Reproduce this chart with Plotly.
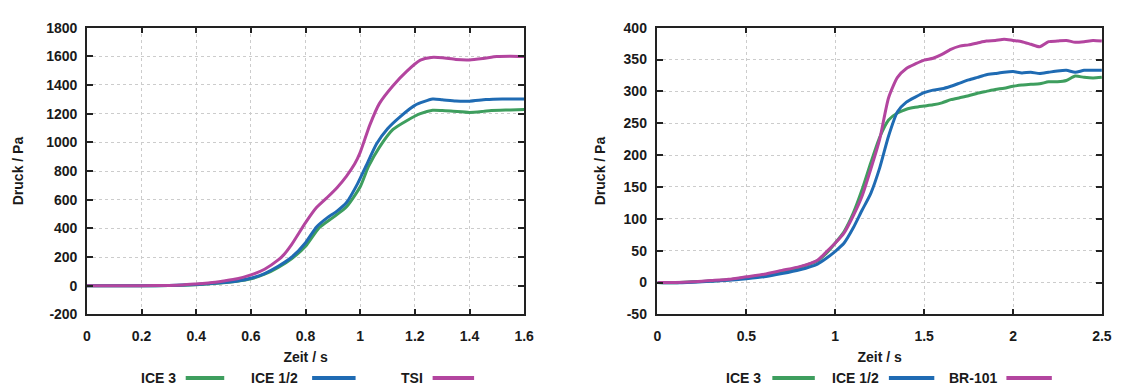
import plotly.graph_objects as go

# ---------------- Left chart data (Zeit / s, Druck / Pa) ----------------
t_left_ice3 = [0, 0.1, 0.2, 0.3, 0.4, 0.5, 0.55, 0.6, 0.65, 0.7, 0.75, 0.8, 0.85, 0.9, 0.95, 1.0,
               1.03, 1.07, 1.12, 1.17, 1.22, 1.265, 1.3, 1.34, 1.4, 1.45, 1.48, 1.55, 1.6]
v_left_ice3 = [0, 0, 0, 1, 7, 20, 31, 48, 80, 128, 190, 275, 405, 475, 550, 690,
               830, 965, 1090, 1151, 1200, 1224, 1222, 1217, 1209, 1216, 1222, 1226, 1229]

t_left_ice12 = [0, 0.1, 0.2, 0.3, 0.4, 0.5, 0.55, 0.6, 0.65, 0.7, 0.75, 0.8, 0.84, 0.88, 0.915, 0.95,
                0.99, 1.02, 1.06, 1.1, 1.15, 1.2, 1.265, 1.3, 1.35, 1.4, 1.46, 1.52, 1.6]
v_left_ice12 = [0, 0, 0, 1, 8, 22, 33, 52, 85, 135, 200, 300, 410, 475, 520, 580,
                710, 830, 990, 1095, 1185, 1258, 1302, 1297, 1288, 1287, 1298, 1302, 1302]

t_left_tsi = [0, 0.1, 0.2, 0.3, 0.35, 0.4, 0.45, 0.5, 0.55, 0.6, 0.65, 0.7, 0.72, 0.75, 0.8, 0.84,
              0.88, 0.915, 0.95, 0.98, 1.0, 1.035, 1.07, 1.12, 1.17, 1.22, 1.26, 1.3, 1.35, 1.4,
              1.45, 1.5, 1.55, 1.6]
v_left_tsi = [0, 0, 0, 2, 5, 12, 20, 33, 48, 75, 115, 180, 215, 290, 440, 545,
              617, 684, 765, 850, 930, 1120, 1270, 1395, 1495, 1573, 1592, 1590, 1578, 1575,
              1585, 1598, 1600, 1598]

# ---------------- Right chart data ----------------
t_right = [0, 0.1, 0.2, 0.3, 0.4, 0.5, 0.6, 0.7, 0.8, 0.9, 0.95, 1.0, 1.05, 1.1, 1.15, 1.2, 1.25,
           1.3, 1.35, 1.4, 1.45, 1.5, 1.55, 1.6, 1.65, 1.7, 1.75, 1.8, 1.85, 1.9, 1.95, 2.0,
           2.05, 2.1, 2.15, 2.2, 2.25, 2.3, 2.35, 2.4, 2.45, 2.5]
v_right_ice3 = [0, -0.5, 1, 2.5, 4.5, 8, 12, 17, 24, 34, 46, 62, 80, 108, 145, 188, 228,
                255, 266, 272, 275, 277, 279, 282, 287, 290, 293, 297, 300, 303, 305, 308,
                310, 311, 312, 315, 315, 317, 324, 322, 321, 322]
v_right_ice12 = [0, -0.5, 0.5, 2, 3.5, 6, 9, 14, 20, 29, 38, 49, 62, 85, 113, 140, 180,
                 230, 268, 283, 291, 298, 302, 304, 308, 313, 318, 322, 326, 328, 330, 331,
                 329, 330, 328, 330, 332, 333, 330, 333, 333, 333]
v_right_br101 = [0, 0, 1, 3, 5, 9, 13, 19, 25, 35, 48, 62, 78, 104, 135, 178, 225,
                 290, 322, 336, 343, 349, 352, 358, 366, 371, 373, 376, 379, 380, 382, 380,
                 378, 374, 370, 378, 379, 380, 377, 378, 380, 379]

left_names = ["ICE 3", "ICE 1/2", "TSI"]
right_names = ["ICE 3", "ICE 1/2", "BR-101"]
colors = ["#3E9E5E", "#1F6BB3", "#B3459F"]

left_xticks = [0, 0.2, 0.4, 0.6, 0.8, 1, 1.2, 1.4, 1.6]
left_xtext = ["0", "0.2", "0.4", "0.6", "0.8", "1", "1.2", "1.4", "1.6"]
left_yticks = [-200, 0, 200, 400, 600, 800, 1000, 1200, 1400, 1600, 1800]
left_ytext = ["-200", "0", "200", "400", "600", "800", "1000", "1200", "1400", "1600", "1800"]
right_xticks = [0, 0.5, 1, 1.5, 2, 2.5]
right_xtext = ["0", "0.5", "1", "1.5", "2", "2.5"]
right_yticks = [-50, 0, 50, 100, 150, 200, 250, 300, 350, 400]
right_ytext = ["-50", "0", "50", "100", "150", "200", "250", "300", "350", "400"]

x_title = "Zeit / s"
y_title = "Druck / Pa"

FONT = "Liberation Sans"
W, H = 1128, 389
FS = 14

fig = go.Figure()
left_series = [(t_left_ice3, v_left_ice3), (t_left_ice12, v_left_ice12), (t_left_tsi, v_left_tsi)]
right_series = [v_right_ice3, v_right_ice12, v_right_br101]
for (tx, vy), name, c in zip(left_series, left_names, colors):
    fig.add_trace(go.Scatter(x=tx, y=vy, mode="lines", name=name,
                             line=dict(color=c, width=3, shape="spline", smoothing=0.6),
                             xaxis="x", yaxis="y", showlegend=False))
for vy, name, c in zip(right_series, right_names, colors):
    fig.add_trace(go.Scatter(x=t_right, y=vy, mode="lines", name=name,
                             line=dict(color=c, width=3, shape="spline", smoothing=0.6),
                             xaxis="x2", yaxis="y2", showlegend=False))

ydom = [(H - 319.5) / H, (H - 20.5) / H]
axis_common = dict(showline=True, linecolor="#222", linewidth=1.5, mirror="ticks", ticks="inside",
                   ticklen=6, tickcolor="#222", tickwidth=1.5, showgrid=True, gridcolor="#cccccc",
                   griddash="dot", gridwidth=1, zeroline=False,
                   tickfont=dict(family=FONT, size=FS, color="#1a1a1a", weight="bold"))
title_font = dict(family=FONT, size=FS, color="#1a1a1a", weight="bold")

fig.update_layout(
    width=W, height=H, margin=dict(l=0, r=0, t=0, b=0),
    paper_bgcolor="white", plot_bgcolor="white",
    xaxis=dict(domain=[84 / W, 526.7 / W], range=[0, 1.6], tickvals=left_xticks, ticktext=left_xtext,
               ticklabelstandoff=8,
               title=dict(text=x_title, font=title_font, standoff=9), anchor="y", **axis_common),
    yaxis=dict(domain=ydom, range=[-200, 1800], tickvals=left_yticks, ticktext=left_ytext,
               ticklabelstandoff=5,
               title=dict(text=y_title, font=title_font, standoff=19), anchor="x", **axis_common),
    xaxis2=dict(domain=[661.7 / W, 1111.7 / W], range=[0, 2.5], tickvals=right_xticks, ticktext=right_xtext,
                ticklabelstandoff=8,
                title=dict(text=x_title, font=title_font, standoff=9), anchor="y2", **axis_common),
    yaxis2=dict(domain=ydom, range=[-50, 400], tickvals=right_yticks, ticktext=right_ytext,
                ticklabelstandoff=6,
                title=dict(text=y_title, font=title_font, standoff=15), anchor="x2", **axis_common),
)

# manual legends: label then line sample
leg_y = 386
left_leg = [(176, 184, 223), (300, 312, 356), (426, 434, 476)]
right_leg = [(769, 778, 821), (888, 896, 942), (1007, 1015, 1061)]
for items, names in ((left_leg, left_names), (right_leg, right_names)):
    for (tx, x0, x1), name, c in zip(items, names, colors):
        fig.add_annotation(x=tx / W, y=(H - leg_y) / H, xref="paper", yref="paper", text=name,
                           showarrow=False, xanchor="right", yanchor="middle",
                           font=dict(family=FONT, size=FS, color="#1a1a1a", weight="bold"))
        fig.add_shape(type="line", xref="paper", yref="paper", x0=x0 / W, x1=x1 / W,
                      y0=(H - leg_y) / H, y1=(H - leg_y) / H, line=dict(color=c, width=4))

fig.write_html("out.html")
